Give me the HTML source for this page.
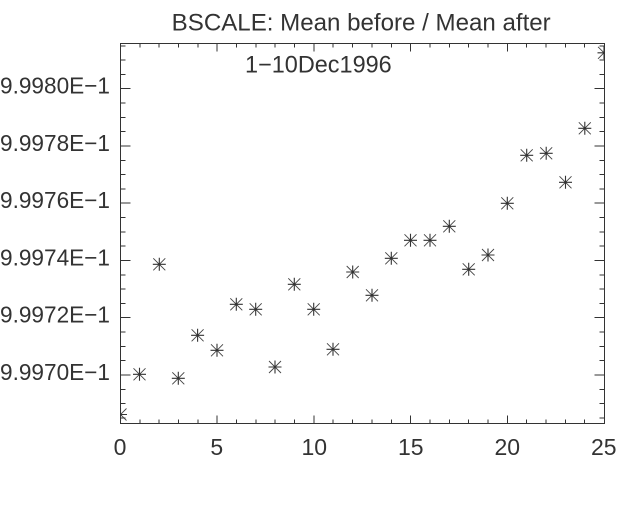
<!DOCTYPE html>
<html>
<head>
<meta charset="utf-8">
<style>
  html, body { margin: 0; padding: 0; background: #ffffff; }
  svg { display: block; }
  text { font-family: "Liberation Sans", "DejaVu Sans", sans-serif; fill: #333333; }
</style>
</head>
<body>
<svg width="640" height="512" viewBox="0 0 640 512" xmlns="http://www.w3.org/2000/svg">
  <rect x="0" y="0" width="640" height="512" fill="#ffffff"/>

  <!-- Titles -->
  <text x="171.7" y="30.7" font-size="24" textLength="379" lengthAdjust="spacingAndGlyphs">BSCALE: Mean before / Mean after</text>
  <text x="245" y="72.7" font-size="24" textLength="146.7" lengthAdjust="spacingAndGlyphs">1−10Dec1996</text>

  <!-- Axes box -->
  <g stroke="#333333" stroke-width="1" fill="none" shape-rendering="crispEdges">
    <rect x="120.5" y="43.5" width="484" height="380"/>
  </g>

  <!-- X ticks -->
  <g stroke="#333333" stroke-width="1" shape-rendering="crispEdges" id="xticks">
    <!-- generated below by static list -->
    <path d="
      M120.5 423.5 V415.5 M120.5 43.5 V51.5
      M139.84 423.5 V419.5 M139.84 43.5 V47.5
      M159.18 423.5 V419.5 M159.18 43.5 V47.5
      M178.52 423.5 V419.5 M178.52 43.5 V47.5
      M197.86 423.5 V419.5 M197.86 43.5 V47.5
      M217.2 423.5 V415.5 M217.2 43.5 V51.5
      M236.54 423.5 V419.5 M236.54 43.5 V47.5
      M255.88 423.5 V419.5 M255.88 43.5 V47.5
      M275.22 423.5 V419.5 M275.22 43.5 V47.5
      M294.56 423.5 V419.5 M294.56 43.5 V47.5
      M313.9 423.5 V415.5 M313.9 43.5 V51.5
      M333.24 423.5 V419.5 M333.24 43.5 V47.5
      M352.58 423.5 V419.5 M352.58 43.5 V47.5
      M371.92 423.5 V419.5 M371.92 43.5 V47.5
      M391.26 423.5 V419.5 M391.26 43.5 V47.5
      M410.6 423.5 V415.5 M410.6 43.5 V51.5
      M429.94 423.5 V419.5 M429.94 43.5 V47.5
      M449.28 423.5 V419.5 M449.28 43.5 V47.5
      M468.62 423.5 V419.5 M468.62 43.5 V47.5
      M487.96 423.5 V419.5 M487.96 43.5 V47.5
      M507.3 423.5 V415.5 M507.3 43.5 V51.5
      M526.64 423.5 V419.5 M526.64 43.5 V47.5
      M545.98 423.5 V419.5 M545.98 43.5 V47.5
      M565.32 423.5 V419.5 M565.32 43.5 V47.5
      M584.66 423.5 V419.5 M584.66 43.5 V47.5
      M604.5 423.5 V415.5 M604.5 43.5 V51.5
    " fill="none"/>
  </g>

  <!-- Y ticks: minor every 14.315px, major every 4 -->
  <g stroke="#333333" stroke-width="1" shape-rendering="crispEdges" fill="none">
    <path d="
      M120.5 417.9 H125.5 M604.5 417.9 H599.5
      M120.5 403.6 H125.5 M604.5 403.6 H599.5
      M120.5 389.3 H125.5 M604.5 389.3 H599.5
      M120.5 375 H130.5 M604.5 375 H594.5
      M120.5 360.7 H125.5 M604.5 360.7 H599.5
      M120.5 346.4 H125.5 M604.5 346.4 H599.5
      M120.5 332.1 H125.5 M604.5 332.1 H599.5
      M120.5 317.7 H130.5 M604.5 317.7 H594.5
      M120.5 303.4 H125.5 M604.5 303.4 H599.5
      M120.5 289.1 H125.5 M604.5 289.1 H599.5
      M120.5 274.8 H125.5 M604.5 274.8 H599.5
      M120.5 260.5 H130.5 M604.5 260.5 H594.5
      M120.5 246.2 H125.5 M604.5 246.2 H599.5
      M120.5 231.9 H125.5 M604.5 231.9 H599.5
      M120.5 217.5 H125.5 M604.5 217.5 H599.5
      M120.5 203.2 H130.5 M604.5 203.2 H594.5
      M120.5 188.9 H125.5 M604.5 188.9 H599.5
      M120.5 174.6 H125.5 M604.5 174.6 H599.5
      M120.5 160.3 H125.5 M604.5 160.3 H599.5
      M120.5 146 H130.5 M604.5 146 H594.5
      M120.5 131.7 H125.5 M604.5 131.7 H599.5
      M120.5 117.3 H125.5 M604.5 117.3 H599.5
      M120.5 103 H125.5 M604.5 103 H599.5
      M120.5 88.7 H130.5 M604.5 88.7 H594.5
      M120.5 74.4 H125.5 M604.5 74.4 H599.5
      M120.5 60.1 H125.5 M604.5 60.1 H599.5
      M120.5 45.8 H125.5 M604.5 45.8 H599.5
    "/>
  </g>

  <!-- Y labels -->
  <g font-size="23">
    <text x="0" y="380" textLength="110" lengthAdjust="spacingAndGlyphs">9.9970E−1</text>
    <text x="0" y="322.7" textLength="110" lengthAdjust="spacingAndGlyphs">9.9972E−1</text>
    <text x="0" y="265.5" textLength="110" lengthAdjust="spacingAndGlyphs">9.9974E−1</text>
    <text x="0" y="208.2" textLength="110" lengthAdjust="spacingAndGlyphs">9.9976E−1</text>
    <text x="0" y="151" textLength="110" lengthAdjust="spacingAndGlyphs">9.9978E−1</text>
    <text x="0" y="93.7" textLength="110" lengthAdjust="spacingAndGlyphs">9.9980E−1</text>
  </g>

  <!-- X labels -->
  <g font-size="23" text-anchor="middle">
    <text x="120" y="455">0</text>
    <text x="216.8" y="455">5</text>
    <text x="314.3" y="455">10</text>
    <text x="410.8" y="455">15</text>
    <text x="507.3" y="455">20</text>
    <text x="603.8" y="455">25</text>
  </g>

  <defs>
    <clipPath id="plotclip">
      <rect x="120.5" y="43.5" width="484" height="380"/>
    </clipPath>
    <g id="ast">
      <path d="M-6.5 0 H6.5 M0 -6.5 V6.5" stroke="#333333" stroke-width="1.1" fill="none"/>
      <path d="M-6 -6 L6 6 M-6 6 L6 -6" stroke="#444444" stroke-width="0.9" fill="none"/>
      <circle cx="0" cy="0" r="1.3" fill="#333333"/>
    </g>
  </defs>

  <!-- Data points -->
  <g clip-path="url(#plotclip)">
    <use href="#ast" x="120.5" y="414.5"/>
    <use href="#ast" x="139.5" y="374.3"/>
    <use href="#ast" x="159.3" y="264.3"/>
    <use href="#ast" x="178.3" y="378.3"/>
    <use href="#ast" x="197.6" y="335.3"/>
    <use href="#ast" x="217" y="350.3"/>
    <use href="#ast" x="236.3" y="304.3"/>
    <use href="#ast" x="255.7" y="309.3"/>
    <use href="#ast" x="275" y="367"/>
    <use href="#ast" x="294.3" y="284.3"/>
    <use href="#ast" x="313.7" y="309.3"/>
    <use href="#ast" x="333" y="349.3"/>
    <use href="#ast" x="352.7" y="272"/>
    <use href="#ast" x="372" y="295.3"/>
    <use href="#ast" x="391.3" y="258.3"/>
    <use href="#ast" x="410.5" y="240.3"/>
    <use href="#ast" x="430" y="240.3"/>
    <use href="#ast" x="449.3" y="226.3"/>
    <use href="#ast" x="468.7" y="269.3"/>
    <use href="#ast" x="488" y="255"/>
    <use href="#ast" x="507.3" y="203.3"/>
    <use href="#ast" x="526.7" y="155.3"/>
    <use href="#ast" x="546.2" y="153.3"/>
    <use href="#ast" x="565.5" y="182.3"/>
    <use href="#ast" x="584.8" y="128.3"/>
    <use href="#ast" x="604" y="52.8"/>
  </g>
</svg>
</body>
</html>
